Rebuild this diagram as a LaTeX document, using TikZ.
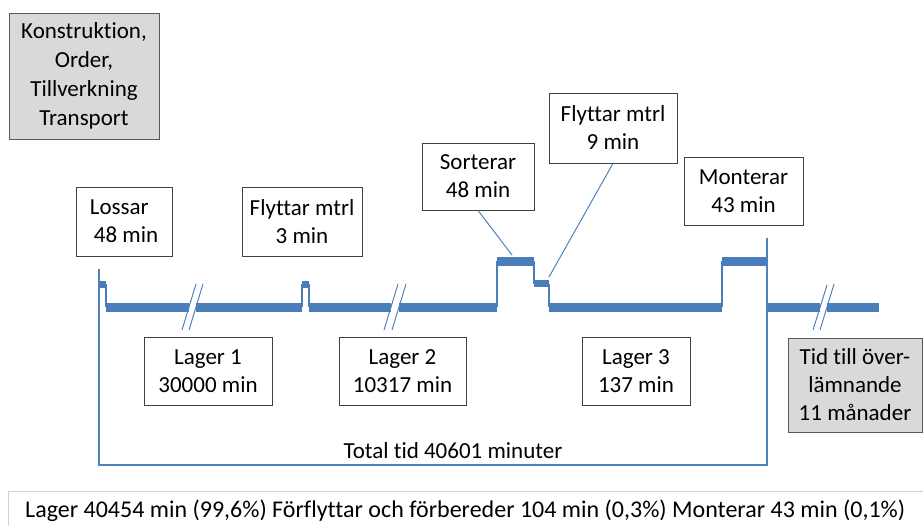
\documentclass[tikz,border=0pt]{standalone}
\usepackage{fontspec}
\setmainfont{Carlito}[Ligatures=NoCommon]
\definecolor{tlblue}{HTML}{4A7EBB}
\definecolor{linkblue}{HTML}{4F81BD}
\definecolor{boxgray}{HTML}{D9D9D9}
\definecolor{framegray}{HTML}{D0D0D0}
\begin{document}
\begin{tikzpicture}[x=1pt,y=-1pt,
  box/.style={draw=black!75, line width=0.9pt, fill=white, inner sep=0pt,
    align=center, font=\fontsize{23}{28}\selectfont},
  graybox/.style={box, fill=boxgray, draw=black!65},
  bar/.style={draw=tlblue, line width=9pt},
  stepbar/.style={draw=tlblue, line width=7pt},
  riser/.style={draw=tlblue, line width=2pt},
  slash/.style={draw=linkblue, line width=1pt},
  bracket/.style={draw=linkblue, line width=1.2pt},
  leader/.style={draw=linkblue, line width=1pt},
  label/.style={inner sep=0pt, font=\fontsize{23}{28}\selectfont}]
\useasboundingbox (0,0) rectangle (923,526);

% --- text boxes
\node[graybox, minimum width=150, minimum height=126, font=\fontsize{23}{29}\selectfont]
  (konst) at (84,76) {Konstruktion,\\Order,\\Tillverkning\\Transport};
\node[box, minimum width=96, minimum height=69, align=left] (lossar) at (124,221.5)
  {Lossar\\\hspace*{4pt}48 min};
\node[box, minimum width=120, minimum height=69] (flytt3) at (302,221.5)
  {Flyttar mtrl\\3 min};
\node[box, minimum width=112, minimum height=67] (sort) at (478,176.5)
  {Sorterar\\48 min};
\node[box, minimum width=128, minimum height=70] (flytt9) at (613,128)
  {Flyttar mtrl\\9 min};
\node[box, minimum width=119, minimum height=68] (mont) at (743.5,191)
  {Monterar\\43 min};
\node[box, minimum width=128, minimum height=68] (lag1) at (208,371)
  {Lager 1\\30000 min};
\node[box, minimum width=127, minimum height=68] (lag2) at (402.5,371)
  {Lager 2\\10317 min};
\node[box, minimum width=108, minimum height=68] (lag3) at (636,371)
  {Lager 3\\137 min};
\node[graybox, minimum width=134, minimum height=94] (tid) at (855,385)
  {Tid till över-\\lämnande\\11 månader};

% --- summary frame at the foot
\node[draw=framegray, line width=1pt, fill=white, minimum width=915, minimum height=36,
  inner sep=0pt] (sumframe) at (465.5,509) {};
\node[label, anchor=base west, font=\fontsize{24}{28}\selectfont] (sumtext) at (25,517)
  {Lager 40454 min (99,6\%) Förflyttar och förbereder 104 min (0,3\%) Monterar 43 min (0,1\%)};

% --- timeline coordinates
\coordinate (b0) at (99,269);
\coordinate (b1) at (99,465);
\coordinate (b2) at (767,465);
\coordinate (b3) at (767,238);
\coordinate (sorttop) at (512,255);
\coordinate (flyttstep) at (549,277);

% total-time bracket
\draw[bracket] (b0) -- (b1) -- (b2) -- (b3);
\node[label, anchor=base] (total) at (453,458) {Total tid 40601 minuter};

% unloading step
\draw[stepbar] (99,284.5) -- (106,284.5);
\draw[riser] (106,284) -- (106,307);
% storage 1 with break
\draw[bar] (106,307.5) -- (189,307.5);
\draw[bar] (196,307.5) -- (302,307.5);
% moving 3 min
\draw[riser] (302,307) -- (302,284);
\draw[stepbar] (302,284.5) -- (309,284.5);
\draw[riser] (309,284) -- (309,307);
% storage 2 with break
\draw[bar] (309,307.5) -- (391,307.5);
\draw[bar] (399,307.5) -- (497,307.5);
% sorting and moving 9 min
\draw[riser] (497,307) -- (497,261);
\draw[bar] (497,261.5) -- (534,261.5);
\draw[riser] (534,261) -- (534,284);
\draw[stepbar] (534,284) -- (549,284);
\draw[riser] (549,284) -- (549,307);
% storage 3
\draw[bar] (549,307.5) -- (722,307.5);
% assembly
\draw[riser] (722,307) -- (722,261);
\draw[bar] (722,261.5) -- (767,261.5);
% until handover, with break
\draw[bar] (767,307.5) -- (820,307.5);
\draw[bar] (827,307.5) -- (879,307.5);

% break marks
\draw[slash] (182,330) -- (196,284);
\draw[slash] (189,330) -- (203,284);
\draw[slash] (384,330) -- (398,284);
\draw[slash] (392,330) -- (406,284);
\draw[slash] (813,330) -- (827,285);
\draw[slash] (820,330) -- (834,284);

% leaders
\draw[leader] (sort.south) -- (sorttop);
\draw[leader] (flytt9.south) -- (flyttstep);
\end{tikzpicture}
\end{document}
